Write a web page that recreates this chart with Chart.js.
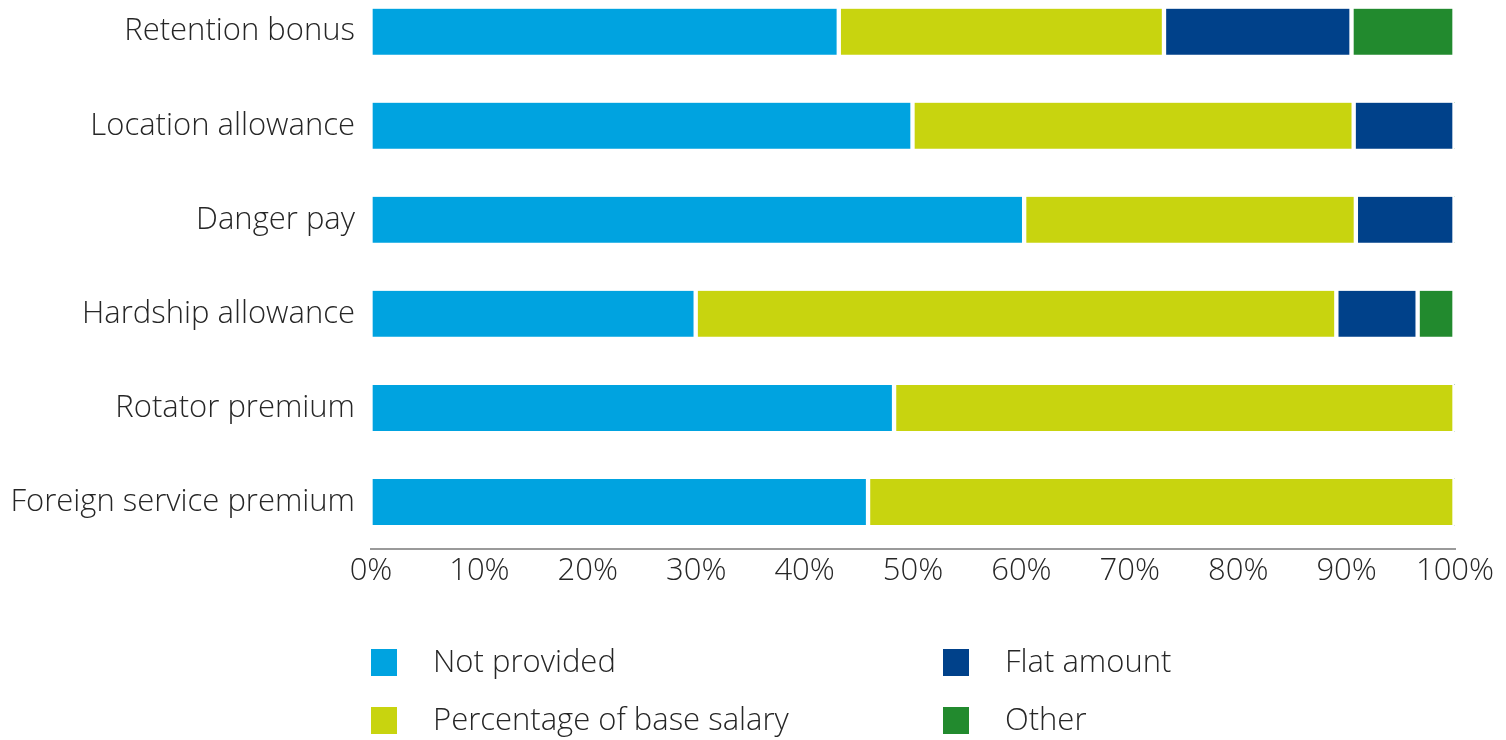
<!DOCTYPE html>
<html>
<head>
<meta charset="utf-8">
<title>Allowances and premiums</title>
<script src="https://cdn.jsdelivr.net/npm/chart.js@4/dist/chart.umd.min.js"></script>
<style>
  html, body { margin: 0; padding: 0; background: #fff; overflow: hidden; }
  #wrap { position: absolute; left: 0; top: -50px; width: 1506px; height: 790px; }
</style>
</head>
<body>
<div id="wrap"><canvas id="grafico"></canvas></div>
<script>
// categories, top to bottom
const categorias = [
  "Retention bonus",
  "Location allowance",
  "Danger pay",
  "Hardship allowance",
  "Rotator premium",
  "Foreign service premium",
];

// share of companies, in %
const noProvisto = [43.2, 50.0, 60.3, 30.0, 48.3, 45.9];
const porcentajeSalario = [30.0, 40.7, 30.6, 59.1, 51.7, 54.1];
const montoFijo = [17.3, 9.3, 9.1, 7.5, 0, 0];
const otro = [9.5, 0, 0, 3.4, 0, 0];

const tickLabels = ["0%", "10%", "20%", "30%", "40%", "50%", "60%", "70%", "80%", "90%", "100%"];

const fuente = "'Open Sans', 'DejaVu Sans', sans-serif";
const colorTexto = "#262626";

function serie(label, data, color) {
  return {
    label: label,
    data: data,
    backgroundColor: color,
    borderColor: "#ffffff",
    borderWidth: { left: 2, right: 3, top: 0, bottom: 0 },
    borderSkipped: false,
    barThickness: 46,
  };
}

// legend in two columns under the axis (canvas starts 50px above the page)
const leyendaGrilla = {
  id: "leyendaGrilla",
  afterDraw(chart) {
    const ctx = chart.ctx;
    const cols = [371, 943];
    const filas = [713, 771];
    ctx.save();
    ctx.font = "300 31px " + fuente;
    ctx.textBaseline = "middle";
    ctx.textAlign = "left";
    chart.data.datasets.forEach((ds, i) => {
      const x = cols[Math.floor(i / 2)];
      const y = filas[i % 2];
      ctx.fillStyle = ds.backgroundColor;
      ctx.fillRect(x, y - 14, 26, 27);
      ctx.fillStyle = colorTexto;
      ctx.fillText(ds.label, x + 62, y);
    });
    ctx.restore();
  },
};

const ctx = document.getElementById("grafico").getContext("2d");

const chart = new Chart(ctx, {
  type: "bar",
  data: {
    labels: categorias,
    datasets: [
      serie("Not provided", noProvisto, "#00a3e0"),
      serie("Percentage of base salary", porcentajeSalario, "#c8d40f"),
      serie("Flat amount", montoFijo, "#00418a"),
      serie("Other", otro, "#228a2e"),
    ],
  },
  options: {
    indexAxis: "y",
    responsive: true,
    maintainAspectRatio: false,
    animation: false,
    layout: {
      padding: { left: 0, right: 51, top: 0, bottom: 141 },
    },
    plugins: {
      legend: { display: false },
      tooltip: { enabled: false },
    },
    scales: {
      x: {
        stacked: true,
        min: 0,
        max: 100,
        afterFit: (scale) => { scale.height = 50; },
        grid: { display: false, drawTicks: false },
        border: { display: true, color: "#9a9a9a", width: 2 },
        ticks: {
          stepSize: 10,
          padding: 4,
          color: colorTexto,
          font: { family: fuente, size: 31, weight: 300 },
          callback: (v) => tickLabels[Math.round(v / 10)],
        },
      },
      y: {
        stacked: true,
        afterFit: (scale) => { scale.width = 371; },
        grid: { display: false, drawTicks: false },
        border: { display: false },
        ticks: {
          padding: 16,
          color: colorTexto,
          font: { family: fuente, size: 31, weight: 300 },
        },
      },
    },
  },
  plugins: [leyendaGrilla],
});
</script>
</body>
</html>
